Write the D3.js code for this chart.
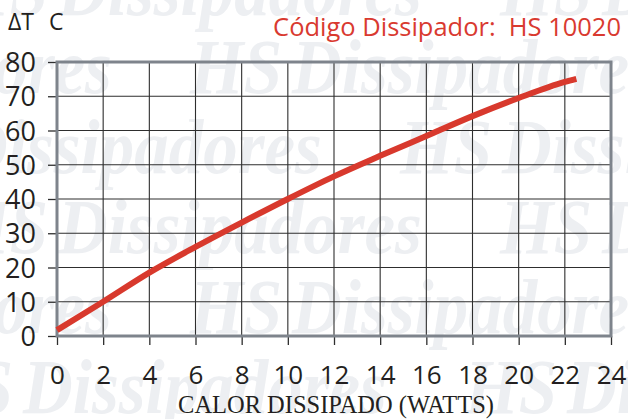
<!DOCTYPE html>
<html>
<head>
<meta charset="utf-8">
<script src="https://cdn.jsdelivr.net/npm/d3@7"></script>
<style>
  html, body { margin: 0; padding: 0; background: #ffffff; }
  svg { display: block; }
</style>
</head>
<body>
<svg id="chart" width="628" height="419"></svg>
<script>
// Heat dissipated (W) vs. temperature rise (°C) for heatsink HS 10020
const heatWatts = [0, 2, 4, 6, 8, 10, 12, 14, 16, 18, 20, 22, 22.5];
const deltaT    = [1.7, 10, 18.5, 26, 33.1, 40, 46.6, 52.6, 58.4, 64.2, 69.5, 74.2, 75.1];

const xTicks = [0, 2, 4, 6, 8, 10, 12, 14, 16, 18, 20, 22, 24];
const yTicks = [0, 10, 20, 30, 40, 50, 60, 70, 80];

const titleText  = "Código Dissipador:  HS 10020";
const xAxisTitle = "CALOR DISSIPADO (WATTS)";
const yUnitA = "ΔT";
const yUnitB = "C";
const brandWords = ["HS", "Dissipadores"];

const W = 628, H = 419;
const plot = { left: 57, right: 611, top: 62, bottom: 336 };

const svg = d3.select("#chart");

const x = d3.scaleLinear().domain([0, 24]).range([plot.left, plot.right]);
const y = d3.scaleLinear().domain([0, 80]).range([plot.bottom, plot.top]);

// scale a text's font size so that it spans a given width
function fitWidth(sel, target) {
  const node = sel.node();
  const fs = parseFloat(sel.attr("font-size"));
  const w = node.getComputedTextLength();
  if (w > 0) sel.attr("font-size", fs * target / w);
  return sel;
}

// ---- background brand pattern ----
const mark = svg.append("g").attr("fill", "#edeff2")
  .attr("font-family", "'Liberation Serif', serif")
  .attr("font-style", "italic").attr("font-weight", 700);

const probe = mark.append("text").attr("font-size", 64).text(brandWords[1]);
fitWidth(probe, 364);
const brandSize = +probe.attr("font-size");
probe.remove();

const rows = [[15, 500], [93, 190], [173, 400], [253, 500], [333, 190], [413, 465]];
const period = 544;
rows.forEach(([by, hx]) => {
  for (let k = -1; k <= 1; k++) {
    const x0 = hx + k * period;
    mark.append("text").attr("transform", `translate(${x0},${by}) scale(1,1.12)`)
      .attr("font-size", brandSize).text(brandWords[0]);
    mark.append("text").attr("transform", `translate(${x0 + 102},${by}) scale(1,1.12)`)
      .attr("font-size", brandSize).text(brandWords[1]);
  }
});

// ---- grid ----
const grid = svg.append("g").attr("stroke", "#2e2e2e").attr("stroke-width", 1.1);
grid.selectAll("line.v").data(xTicks.slice(1, -1)).join("line")
  .attr("x1", d => x(d)).attr("x2", d => x(d))
  .attr("y1", plot.top).attr("y2", plot.bottom);
grid.selectAll("line.h").data(yTicks.slice(1, -1)).join("line")
  .attr("y1", d => y(d)).attr("y2", d => y(d))
  .attr("x1", plot.left).attr("x2", plot.right);

// ---- axes ----
const textColor = "#231f20";

const yAxis = svg.append("g")
  .attr("transform", `translate(${plot.left},0)`)
  .call(d3.axisLeft(y).tickValues(yTicks).tickSize(9).tickPadding(12).tickFormat(d3.format("d")));
yAxis.select(".domain").remove();
yAxis.selectAll(".tick line").attr("stroke", "#2e2e2e").attr("stroke-width", 1.3);
yAxis.selectAll(".tick text")
  .attr("font-family", "'Open Sans', sans-serif").attr("font-size", 27)
  .attr("fill", textColor).attr("dy", "0.36em");

const xAxis = svg.append("g")
  .attr("transform", `translate(0,${plot.bottom})`)
  .call(d3.axisBottom(x).tickValues(xTicks).tickSize(9).tickPadding(21).tickFormat(d3.format("d")));
xAxis.select(".domain").remove();
xAxis.selectAll(".tick line").attr("stroke", "#2e2e2e").attr("stroke-width", 1.3);
xAxis.selectAll(".tick text")
  .attr("font-family", "'Open Sans', sans-serif").attr("font-size", 26)
  .attr("fill", textColor);

// ---- plot frame ----
svg.append("rect")
  .attr("x", plot.left).attr("y", plot.top)
  .attr("width", plot.right - plot.left).attr("height", plot.bottom - plot.top)
  .attr("fill", "none").attr("stroke", "#7e848c").attr("stroke-width", 3);

// ---- curve ----
const pts = heatWatts.map((w, i) => [w, deltaT[i]]);
svg.append("path")
  .datum(pts)
  .attr("d", d3.line().x(d => x(d[0])).y(d => y(d[1])).curve(d3.curveMonotoneX))
  .attr("fill", "none").attr("stroke", "#d8392d").attr("stroke-width", 6)
  .attr("stroke-linecap", "butt");

// ---- texts ----
const title = svg.append("text")
  .attr("x", 621).attr("y", 36).attr("text-anchor", "end")
  .attr("font-family", "'Open Sans', sans-serif").attr("font-size", 22)
  .attr("fill", "#d93a30")
  .style("white-space", "pre")
  .text(titleText);
fitWidth(title, 348);

svg.append("text").attr("x", 8).attr("y", 30)
  .attr("font-family", "'Open Sans', sans-serif").attr("font-size", 23)
  .attr("fill", textColor).text(yUnitA);
svg.append("text").attr("x", 49).attr("y", 30)
  .attr("font-family", "'Open Sans', sans-serif").attr("font-size", 23)
  .attr("fill", textColor).text(yUnitB);

const xt = svg.append("text")
  .attr("x", 336).attr("y", 413).attr("text-anchor", "middle")
  .attr("font-family", "'Liberation Serif', 'Times New Roman', serif").attr("font-size", 21)
  .attr("fill", textColor).text(xAxisTitle);
fitWidth(xt, 316);
</script>
</body>
</html>
